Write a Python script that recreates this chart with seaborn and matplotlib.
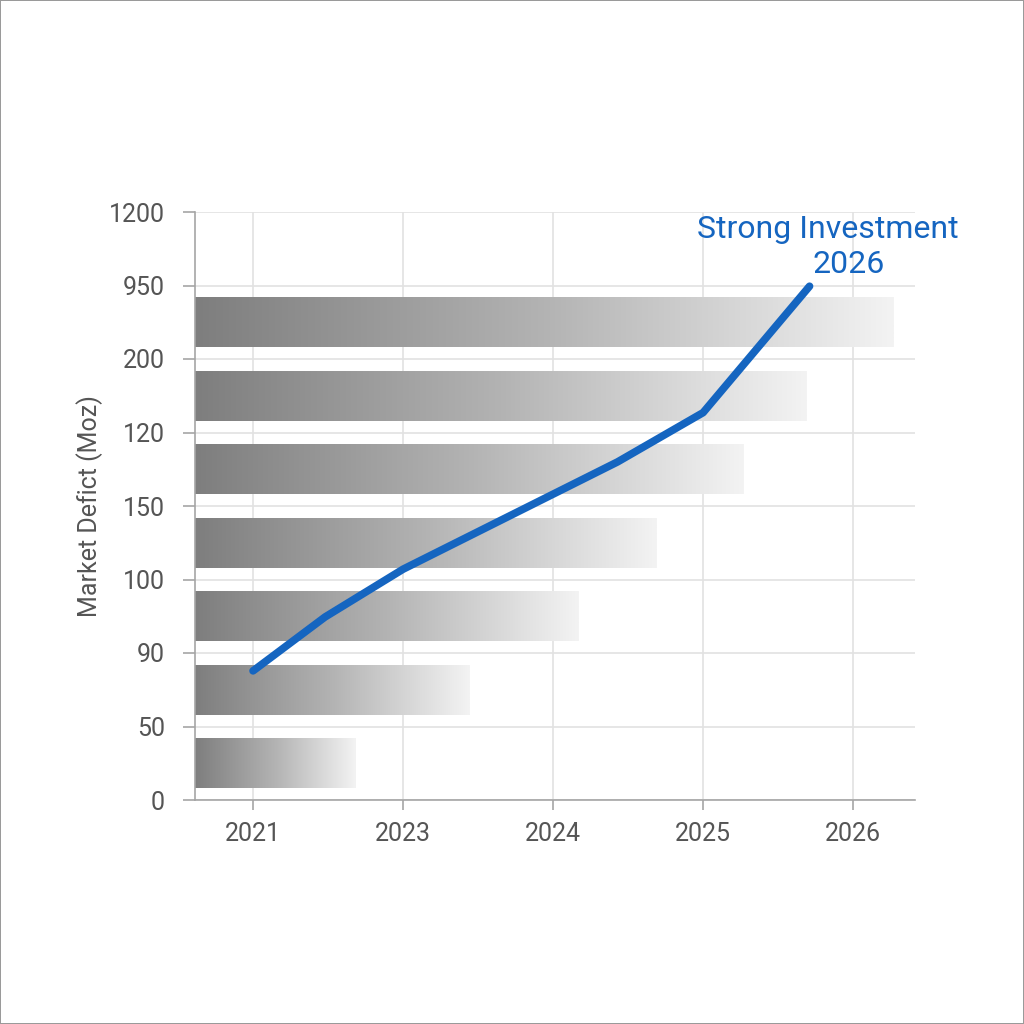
import numpy as np
import matplotlib
matplotlib.use("Agg")
import matplotlib.pyplot as plt
from matplotlib.colors import LinearSegmentedColormap
import seaborn as sns

# ---- data ----
years = ['2021', '2023', '2024', '2025', '2026']
y_tick_labels = ['0', '50', '90', '100', '150', '120', '200', '950', '1200']
bar_centers = [0.5, 1.5, 2.5, 3.5, 4.5, 5.5, 6.5]
bar_ends = [0.68, 1.44, 2.17, 2.69, 3.27, 3.69, 4.27]
line_x = [0.0, 0.48, 1.0, 2.43, 3.0, 3.71]
line_y = [1.757, 2.49, 3.14, 4.60, 5.27, 6.99]
annot_line1 = 'Strong Investment'
annot_line2 = '2026'
y_label = 'Market Defict (Moz)'

sns.set_theme(style='white')
plt.rcParams['font.family'] = ['Roboto', 'DejaVu Sans']

BLUE = '#1565C0'
TXT = '#555555'

fig = plt.figure(figsize=(10.24, 10.24), dpi=100, facecolor='white',
                 edgecolor='#9a9a9a', linewidth=1.2)
ax = fig.add_axes([195/1024, 1 - 800/1024, 720/1024, 588/1024])

x_left, x_right = -0.387, 4.413
ax.set_xlim(x_left, x_right)
ax.set_ylim(0, 8)

# bars with gradient
bars = ax.barh(bar_centers, [e - x_left for e in bar_ends], left=x_left,
               height=0.68, color='none', edgecolor='none', zorder=2)
cmap = LinearSegmentedColormap.from_list('g', ['#7e7e7e', '#b3b3b3', '#f3f3f3'])
grad = np.linspace(0, 1, 256).reshape(1, -1)
for p in bars.patches:
    x0, y0 = p.get_x(), p.get_y()
    w, h = p.get_width(), p.get_height()
    im = ax.imshow(grad, cmap=cmap, aspect='auto', extent=[x0, x0 + w, y0, y0 + h],
                   zorder=2, interpolation='bilinear')
    im.set_clip_path(p)
ax.set_xlim(x_left, x_right)
ax.set_ylim(0, 8)

# line
sns.lineplot(x=line_x, y=line_y, ax=ax, color=BLUE, linewidth=5.5, zorder=4,
             sort=False, estimator=None)

ax.text(3.83, 7.76, annot_line1, color=BLUE, fontsize=23,
        ha='center', va='center', zorder=5)
ax.text(3.97, 7.28, annot_line2, color=BLUE, fontsize=23,
        ha='center', va='center', zorder=5)

# axes styling
ax.set_xticks(range(len(years)))
ax.set_xticklabels(years)
ax.set_yticks(range(len(y_tick_labels)))
ax.set_yticklabels(y_tick_labels)
ax.grid(True, color='#e2e2e2', linewidth=1.2, zorder=0)
ax.set_axisbelow(True)
for s in ['top', 'right']:
    ax.spines[s].set_visible(False)
for s in ['left', 'bottom']:
    ax.spines[s].set_color('#a5a5a5')
    ax.spines[s].set_linewidth(1.2)
ax.tick_params(axis='y', length=8.6, width=1.2, color='#a5a5a5', pad=13,
               labelsize=18, labelcolor=TXT, left=True)
ax.tick_params(axis='x', length=7, width=1.2, color='#a5a5a5', pad=9,
               labelsize=18, labelcolor=TXT, bottom=True)
ax.set_ylabel(y_label, fontsize=18, color=TXT, labelpad=4)

fig.savefig('out.png', dpi=100, facecolor='white', edgecolor=fig.get_edgecolor())
